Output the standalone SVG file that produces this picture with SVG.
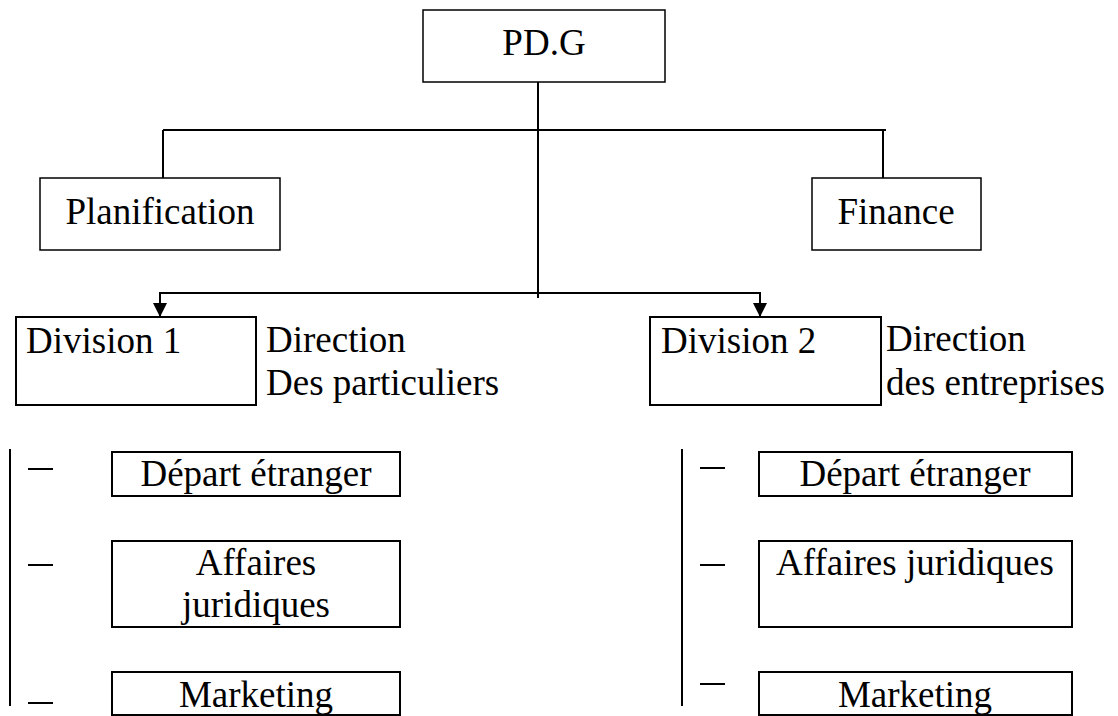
<svg xmlns="http://www.w3.org/2000/svg" width="1118" height="716" viewBox="0 0 1118 716">
  <style>
    .box { fill: #fff; stroke: #000; stroke-width: 1.5; }
    .box2 { fill: #fff; stroke: #000; stroke-width: 2; }
    .lbl { font-size: 37px; fill: #000; }
    .mid { text-anchor: middle; }
    .ln { fill: none; stroke: #000; stroke-width: 2; }
  </style>
  <defs>
    <marker id="arrow" markerUnits="userSpaceOnUse" markerWidth="16" markerHeight="16" refX="7" refY="14" orient="0">
      <path d="M0,0 L14,0 L7,14 Z" fill="#000"/>
    </marker>
  </defs>
  <rect width="1118" height="716" fill="#fff"/>

  <!-- connectors -->
  <g id="connectors">
    <line class="ln" x1="538" y1="82" x2="538" y2="298"/>
    <line class="ln" x1="163" y1="130" x2="886" y2="130"/>
    <line class="ln" x1="163" y1="130" x2="163" y2="178"/>
    <line class="ln" x1="883" y1="130" x2="883" y2="178"/>
    <polyline class="ln" points="538,293 160,293 160,317" marker-end="url(#arrow)"/>
    <polyline class="ln" points="538,293 760,293 760,317" marker-end="url(#arrow)"/>
    <!-- left department bracket -->
    <line class="ln" x1="10" y1="449" x2="10" y2="706"/>
    <line class="ln" x1="28" y1="469" x2="53" y2="469"/>
    <line class="ln" x1="28" y1="565" x2="53" y2="565"/>
    <line class="ln" x1="28" y1="703" x2="53" y2="703"/>
    <!-- right department bracket -->
    <line class="ln" x1="682" y1="449" x2="682" y2="706"/>
    <line class="ln" x1="700" y1="468" x2="725" y2="468"/>
    <line class="ln" x1="700" y1="565" x2="725" y2="565"/>
    <line class="ln" x1="700" y1="684" x2="725" y2="684"/>
  </g>

  <g font-family="'Liberation Serif', 'Times New Roman', 'DejaVu Serif', serif">
    <g id="pdg">
      <rect class="box" x="423" y="10" width="242" height="72"/>
      <text class="lbl mid" x="544" y="55">PD.G</text>
    </g>
    <g id="planification">
      <rect class="box" x="40" y="178" width="240" height="72"/>
      <text class="lbl mid" x="160" y="224">Planification</text>
    </g>
    <g id="finance">
      <rect class="box" x="812" y="178" width="169" height="72"/>
      <text class="lbl mid" x="896" y="224">Finance</text>
    </g>

    <g id="division1">
      <rect class="box2" x="16" y="317" width="240" height="88"/>
      <text class="lbl" x="26" y="353">Division 1</text>
      <text class="lbl" x="266" y="352">Direction</text>
      <text class="lbl" x="266" y="395">Des particuliers</text>
    </g>
    <g id="division2">
      <rect class="box2" x="650" y="317" width="231" height="88"/>
      <text class="lbl" x="661" y="353">Division 2</text>
      <text class="lbl" x="886" y="351">Direction</text>
      <text class="lbl" x="886" y="395">des entreprises</text>
    </g>

    <g id="d1-depart">
      <rect class="box2" x="112" y="452" width="288" height="44"/>
      <text class="lbl mid" x="256" y="486">Départ étranger</text>
    </g>
    <g id="d1-affaires">
      <rect class="box2" x="112" y="541" width="288" height="86"/>
      <text class="lbl mid" x="256" y="575">Affaires</text>
      <text class="lbl mid" x="256" y="617">juridiques</text>
    </g>
    <g id="d1-marketing">
      <rect class="box2" x="112" y="672" width="288" height="43"/>
      <text class="lbl mid" x="256" y="707">Marketing</text>
    </g>

    <g id="d2-depart">
      <rect class="box2" x="759" y="452" width="313" height="44"/>
      <text class="lbl mid" x="915" y="486">Départ étranger</text>
    </g>
    <g id="d2-affaires">
      <rect class="box2" x="759" y="541" width="313" height="86"/>
      <text class="lbl mid" x="915" y="575">Affaires juridiques</text>
    </g>
    <g id="d2-marketing">
      <rect class="box2" x="759" y="672" width="313" height="43"/>
      <text class="lbl mid" x="915" y="707">Marketing</text>
    </g>
  </g>
</svg>
